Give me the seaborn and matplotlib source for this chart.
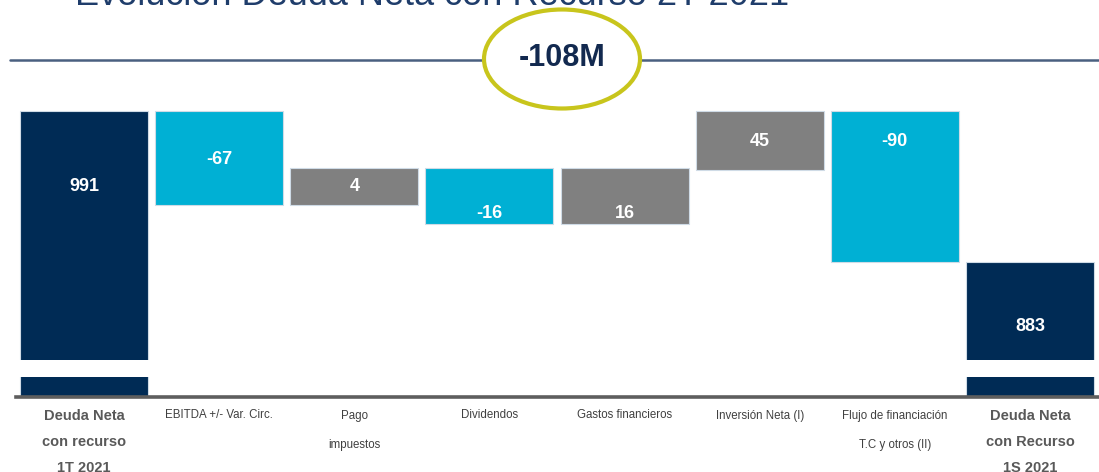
import matplotlib
matplotlib.use("Agg")
import matplotlib.pyplot as plt
from matplotlib.patches import Ellipse
from matplotlib.lines import Line2D
import pandas as pd
import seaborn as sns

# ---- data (M EUR) ----
title = "Evolución Deuda Neta con Recurso 2T 2021"
total_change = "-108M"
categories = [
    "Deuda Neta\ncon recurso\n1T 2021",
    "EBITDA +/- Var. Circ.",
    "Pago\nimpuestos",
    "Dividendos",
    "Gastos financieros",
    "Inversión Neta (I)",
    "Flujo de financiación\nT.C y otros (II)",
    "Deuda Neta\ncon Recurso\n1S 2021",
]
values = [991, -67, 4, -16, 16, 45, -90, 883]
# the slide is not drawn to scale: bar ends as drawn, in the same units
bar_low = [0, 924, 924, 910, 910, 949, 883, 0]
bar_high = [991, 991, 950, 950, 950, 991, 991, 883]
kind = ["total", "down", "up", "down", "up", "up", "down", "total"]

# ---- layout / style ----
W, H = 1099, 472
NAVY = "#002b55"
CYAN = "#00b0d4"
GREY = "#808080"
kind_color = {"total": NAVY, "down": CYAN, "up": GREY}
label_at = [937, 956, 937, 918, 918, 969, 969, 837]

sns.set_theme(style="white")
plt.rcParams["font.family"] = ["Liberation Sans", "DejaVu Sans"]

fig = plt.figure(figsize=(W / 100, H / 100), dpi=100)


def fig_rect(x0, y0, x1, y1):
    return [x0 / W, 1 - y1 / H, (x1 - x0) / W, (y1 - y0) / H]


ax_top = fig.add_axes(fig_rect(16.4, 105, 1097.6, 360))
ax_bot = fig.add_axes(fig_rect(16.4, 377, 1097.6, 397))

df = pd.DataFrame({
    "cat": [f"c{i}" for i in range(len(categories))],
    "span": [h - l for h, l in zip(bar_high, bar_low)],
})

for ax in (ax_top, ax_bot):
    sns.barplot(data=df, x="cat", y="span", bottom=bar_low, color=NAVY,
                width=0.947, errorbar=None, saturation=1, ax=ax,
                edgecolor="#cfdbe6", linewidth=0.8)
    for patch, k in zip(ax.patches, kind):
        patch.set_facecolor(kind_color[k])
    ax.set_xlim(-0.5, len(categories) - 0.5)
    ax.set_xlabel("")
    ax.set_ylabel("")
    ax.set_yticks([])
    for s in ax.spines.values():
        s.set_visible(False)

ax_top.set_ylim(812.9, 995.3)
ax_top.set_xticks([])
ax_bot.set_ylim(0, 14)

for i, (v, y) in enumerate(zip(values, label_at)):
    ax_top.text(i, y, f"{v}", ha="center", va="center", color="white",
                fontsize=13, fontweight="bold")

# baseline
ax_bot.spines["bottom"].set_visible(True)
ax_bot.spines["bottom"].set_color("#5e5e5e")
ax_bot.spines["bottom"].set_linewidth(2.6)

ax_bot.set_xticks(range(len(categories)))
ax_bot.set_xticklabels(categories)
ax_bot.tick_params(axis="x", length=0, pad=9)
for lab, k in zip(ax_bot.get_xticklabels(), kind):
    if k == "total":
        lab.set_fontsize(10.5)
        lab.set_fontweight("bold")
        lab.set_color("#595959")
        lab.set_linespacing(2.05)
    else:
        lab.set_fontsize(8.3)
        lab.set_color("#404040")
        lab.set_linespacing(2.9)

# header: title (cut at the top edge), rule and ellipse with the total change
fig.text(75 / W, 1 - 5 / H, title, ha="left", va="baseline",
         fontsize=26, color="#1f3d6b")
fig.add_artist(Line2D([10 / W, 1], [1 - 60 / H, 1 - 60 / H],
                      transform=fig.transFigure, color="#4a6080", lw=1.8,
                      zorder=2))
fig.add_artist(Ellipse((562 / W, 1 - 59 / H), 156 / W, 99 / H,
                       transform=fig.transFigure, facecolor="white",
                       edgecolor="#c8c51c", lw=3, zorder=3))
fig.text(562 / W, 1 - 58 / H, total_change, ha="center", va="center",
         fontsize=22, fontweight="bold", color="#12294f", zorder=4)

fig.savefig("out.png", dpi=100)
